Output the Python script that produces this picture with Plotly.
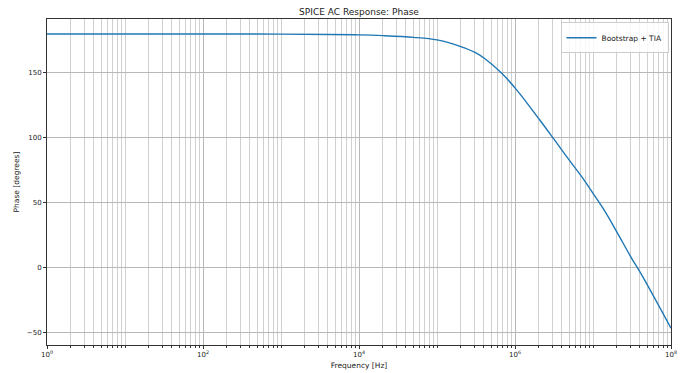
import plotly.graph_objects as go

# Data
freq_hz = [1, 10, 100, 1000, 4266, 1.0e4, 2.04e4, 5.01e4, 1.0e5, 1.97e5, 3.07e5,
           4.12e5, 6.76e5, 1.05e6, 2.09e6, 3.09e6, 4.59e6, 7.16e6, 1.0e7,
           1.43e7, 2.01e7, 3.13e7, 4.21e7, 1.0e8]
phase_deg = [180, 180, 180, 179.9, 179.6, 179.3, 178.7, 177.4, 175.4, 170.5, 165.8,
             160.9, 149.7, 137.0, 113.6, 99.8, 85.6, 70.2, 57.4,
             43.3, 27.9, 7.4, -5.4, -46.4]
series_name = "Bootstrap + TIA"

x_major_ticks = [1, 1e2, 1e4, 1e6, 1e8]
x_major_labels = ["10<sup>0</sup>", "10<sup>2</sup>", "10<sup>4</sup>", "10<sup>6</sup>", "10<sup>8</sup>"]
y_ticks = [-50, 0, 50, 100, 150]

minor_vals = [m * 10 ** k for k in range(0, 8) for m in range(1, 10)
              if (m * 10 ** k) not in x_major_ticks]

FONT = "DejaVu Sans"
AX = "#333333"

fig = go.Figure()
fig.add_trace(go.Scatter(
    x=freq_hz, y=phase_deg, mode="lines", name=series_name,
    line=dict(color="#1f77b4", width=1.4, shape="spline", smoothing=1.0),
))

fig.update_layout(
    width=686, height=373,
    margin=dict(l=47, r=15, t=19, b=28, autoexpand=False),
    paper_bgcolor="white", plot_bgcolor="white",
    font=dict(family=FONT, size=7, color="#222222"),
    title=dict(text="SPICE AC Response: Phase", x=0.5, xref="paper", xanchor="center",
               y=(373 - 12) / 373, yref="container", yanchor="middle",
               font=dict(family=FONT, size=9, color="#222222")),
    showlegend=True,
    legend=dict(x=0.996, y=0.99, xanchor="right", yanchor="top",
                bgcolor="rgba(255,255,255,0.85)", bordercolor="#cccccc", borderwidth=1,
                font=dict(family=FONT, size=7.5, color="#222222"),
                itemwidth=30, tracegroupgap=0),
)

fig.update_xaxes(
    type="log", range=[0, 8], automargin=False,
    tickmode="array", tickvals=x_major_ticks, ticktext=x_major_labels,
    ticks="outside", ticklen=3, tickcolor=AX, tickwidth=1,
    showgrid=True, gridcolor="#b8b8b8", gridwidth=1,
    showline=True, linecolor=AX, linewidth=1, mirror=True,
    zeroline=False,
    minor=dict(tickmode="array", tickvals=minor_vals, ticks="outside", ticklen=2,
               tickcolor=AX, showgrid=True, gridcolor="#d0d0d0", gridwidth=1),
    title=dict(text="Frequency [Hz]", standoff=4, font=dict(family=FONT, size=7.5)),
    tickfont=dict(family=FONT, size=7, color="#222222"),
)
fig.update_yaxes(
    range=[-59.3, 191.5], automargin=False,
    tickmode="array", tickvals=y_ticks,
    ticks="outside", ticklen=3, tickcolor=AX, tickwidth=1,
    showgrid=True, gridcolor="#b8b8b8", gridwidth=1,
    showline=True, linecolor=AX, linewidth=1, mirror=True,
    zeroline=False,
    title=dict(text="Phase [degrees]", standoff=6, font=dict(family=FONT, size=7.5)),
    tickfont=dict(family=FONT, size=7, color="#222222"),
)

fig.write_html("out.html")
